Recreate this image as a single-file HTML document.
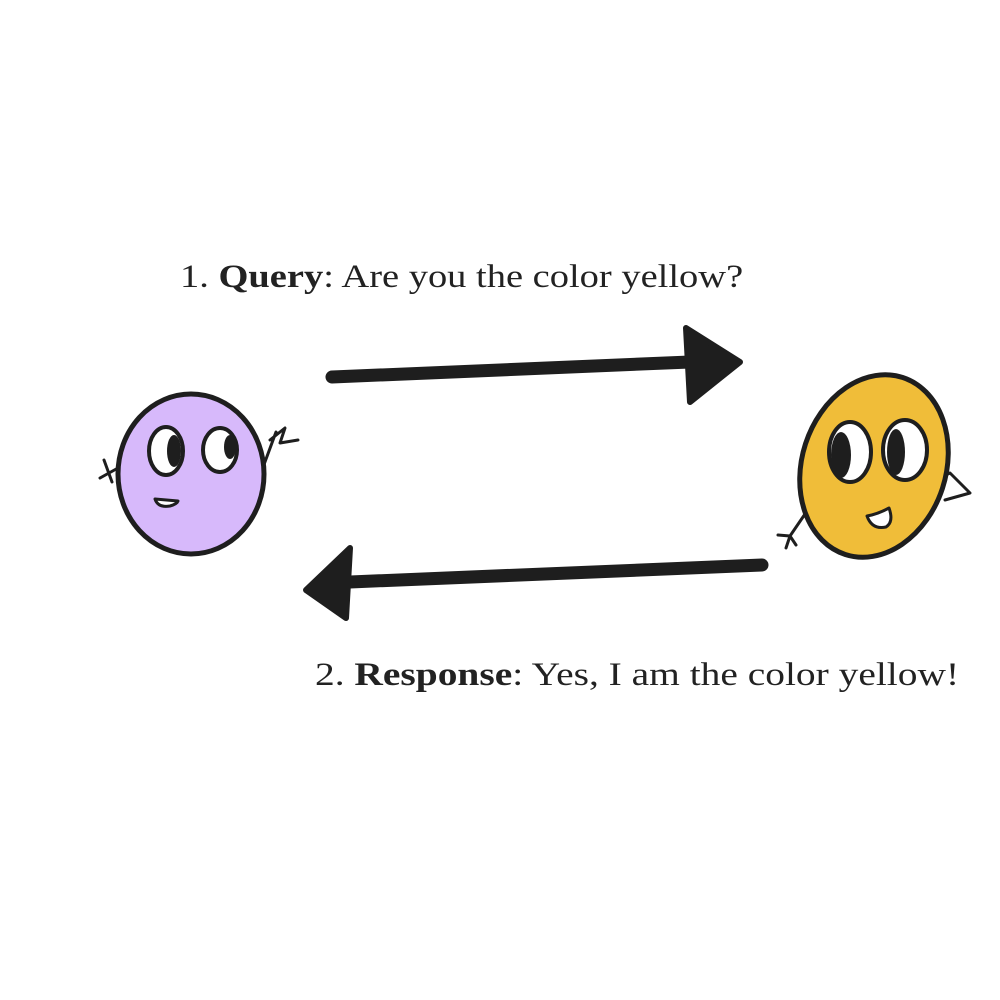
<!DOCTYPE html>
<html><head><style>
html,body{margin:0;padding:0;background:#fff;width:1000px;height:1000px;overflow:hidden}
.t{position:absolute;font-family:"Liberation Serif",serif;font-size:33px;color:#222;white-space:nowrap;transform-origin:0 0}
</style></head><body>
<div class="t" style="left:180px;top:259px;transform:scaleX(1.166)">1. <b>Query</b>: Are you the color yellow?</div>
<div class="t" style="left:315px;top:657px;transform:scaleX(1.195)">2. <b>Response</b>: Yes, I am the color yellow!</div>
<svg width="1000" height="1000" style="position:absolute;left:0;top:0" fill="none" stroke="#1e1e1e" stroke-linecap="round" stroke-linejoin="round">
<path d="M332 377 L690 362" stroke-width="13"/>
<path d="M686 328 L740 362 L690 402 Z" fill="#1e1e1e" stroke-width="6"/>
<path d="M762 565 L350 582" stroke-width="13"/>
<path d="M350 548 L306 590 L346 618 Z" fill="#1e1e1e" stroke-width="6"/>
<path d="M118 468 L100 478 M104 460 L112 482 M270 440 L285 428 L280 443 L298 440 M276 432 L262 470" stroke-width="3"/>
<ellipse cx="191" cy="474" rx="73" ry="80" fill="#d7b9fb" stroke-width="5"/>
<ellipse cx="166" cy="451" rx="17" ry="24" fill="#fff" stroke-width="4"/>
<ellipse cx="174" cy="451" rx="7" ry="16" fill="#1e1e1e" stroke="none"/>
<ellipse cx="220" cy="450" rx="17" ry="22" fill="#fff" stroke-width="4"/>
<ellipse cx="230" cy="447" rx="6" ry="12" fill="#1e1e1e" stroke="none"/>
<path d="M155 499 Q158 508 170 506 Q177 504 178 501 Z" fill="#fff" stroke-width="3"/>
<path d="M805 514 L790 536 L778 535 M790 536 L786 548 M790 536 L796 545 M935 480 L950 473 L970 493 L945 500" stroke-width="3"/>
<ellipse cx="874" cy="466" rx="72" ry="93" transform="rotate(18 874 466)" fill="#f0bd39" stroke-width="5"/>
<ellipse cx="850" cy="452" rx="21" ry="30" fill="#fff" stroke-width="4"/>
<ellipse cx="841" cy="455" rx="10" ry="23" fill="#1e1e1e" stroke="none"/>
<ellipse cx="905" cy="450" rx="22" ry="30" fill="#fff" stroke-width="4"/>
<ellipse cx="896" cy="452" rx="9" ry="23" fill="#1e1e1e" stroke="none"/>
<path d="M867 516 Q872 530 886 527 Q894 522 889 508 Q878 514 867 516 Z" fill="#fff" stroke-width="3"/>
</svg>
</body></html>
